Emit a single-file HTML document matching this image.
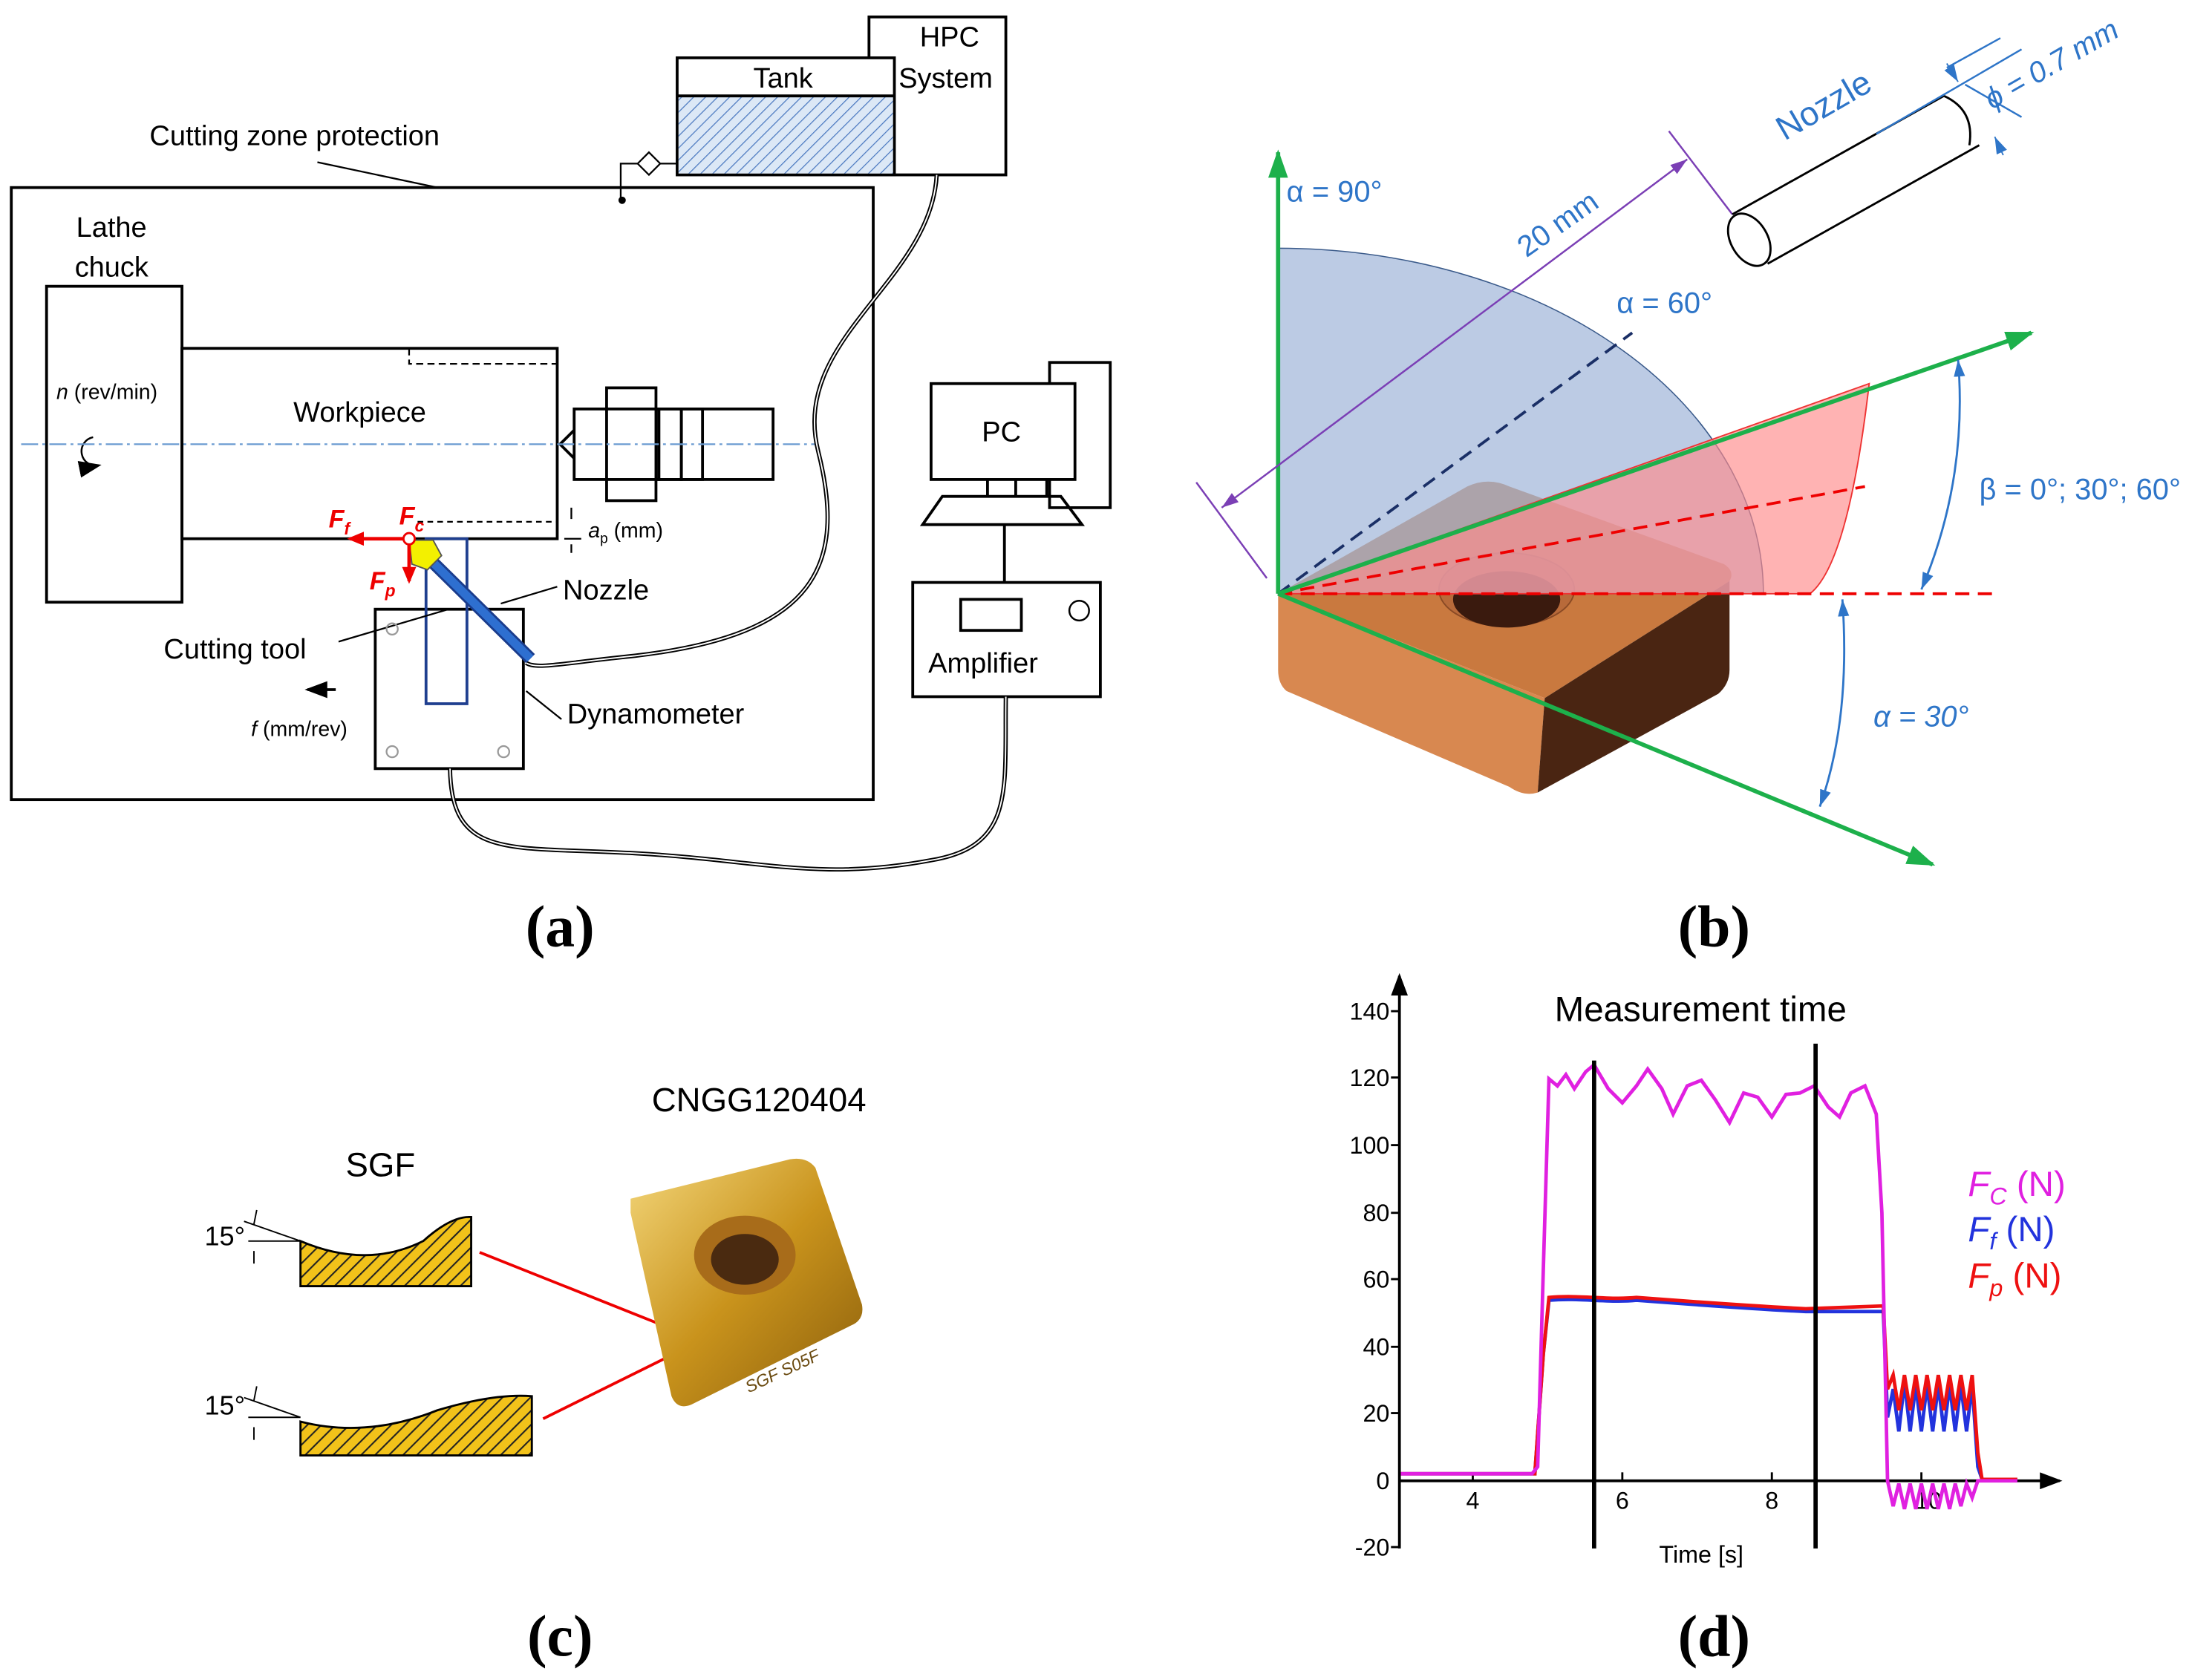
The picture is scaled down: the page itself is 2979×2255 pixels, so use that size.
<!DOCTYPE html>
<html><head><meta charset="utf-8"><style>html,body{margin:0;padding:0;background:#fff}svg{display:block}</style></head>
<body>
<svg width="2979" height="2255" viewBox="0 0 1568 1187" preserveAspectRatio="none" xmlns="http://www.w3.org/2000/svg" font-family="Liberation Sans, sans-serif">
<defs>
<pattern id="hb" width="6" height="6" patternUnits="userSpaceOnUse" patternTransform="rotate(45)"><rect width="6" height="6" fill="#dce8f6"/><line x1="0" y1="0" x2="0" y2="6" stroke="#4a78c0" stroke-width="1.3"/></pattern>
<pattern id="hy" width="7" height="7" patternUnits="userSpaceOnUse" patternTransform="rotate(45)"><rect width="7" height="7" fill="#f2c21a"/><line x1="0" y1="0" x2="0" y2="7" stroke="#222" stroke-width="2.2"/></pattern>
<marker id="ag" markerWidth="20" markerHeight="14" refX="18" refY="7" orient="auto" markerUnits="userSpaceOnUse"><path d="M0,0 L20,7 L0,14z" fill="#1db04b"/></marker>
<marker id="ab" markerWidth="14" markerHeight="10" refX="12" refY="5" orient="auto-start-reverse" markerUnits="userSpaceOnUse"><path d="M0,1 L12,5 L0,9z" fill="#2e75c8"/></marker>
<marker id="ap" markerWidth="14" markerHeight="10" refX="12" refY="5" orient="auto-start-reverse" markerUnits="userSpaceOnUse"><path d="M0,1 L12,5 L0,9z" fill="#7b3fb5"/></marker>
<marker id="ak" markerWidth="16" markerHeight="12" refX="14" refY="6" orient="auto" markerUnits="userSpaceOnUse"><path d="M0,0 L16,6 L0,12z" fill="#000"/></marker>
<marker id="ar" markerWidth="12" markerHeight="10" refX="10" refY="5" orient="auto" markerUnits="userSpaceOnUse"><path d="M0,0 L12,5 L0,10z" fill="#e00"/></marker>
<linearGradient id="gold" x1="0" y1="0" x2="1" y2="1"><stop offset="0" stop-color="#f3d67a"/><stop offset="0.5" stop-color="#c9931c"/><stop offset="1" stop-color="#8a5e0c"/></linearGradient>
</defs>

<!-- ===== (a) ===== -->
<g stroke="#000" fill="none" stroke-width="2">
<rect x="8" y="133" width="611" height="434"/>
<rect x="616" y="12" width="97" height="112" fill="#fff"/>
<rect x="480" y="41" width="154" height="83" fill="#fff"/>
<rect x="481" y="68" width="152" height="55" fill="url(#hb)" stroke="none"/>
<line x1="480" y1="68" x2="634" y2="68"/>
<rect x="33" y="203" width="96" height="224"/>
<rect x="129" y="247" width="266" height="135"/>
<rect x="407" y="290" width="60" height="50"/>
<rect x="430" y="275" width="35" height="80"/>
<rect x="467" y="290" width="81" height="50"/>
<rect x="467" y="290" width="16" height="50"/>
<rect x="483" y="290" width="15" height="50"/>
<path d="M407,305 L397,315 L407,325"/>
<rect x="266" y="432" width="105" height="113"/>
<rect x="302" y="382" width="29" height="117" stroke="#1f3f8f"/>
<rect x="660" y="272" width="102" height="68"/>
<path d="M744,272 V257 H787 V360 H762 M744,340 V360 H762"/>
<path d="M700,340 V352 M720,340 V352 M742,340 V352 M654,372 L668,352 H752 L767,372 Z"/>
<line x1="712" y1="372" x2="712" y2="413"/>
<rect x="647" y="413" width="133" height="81"/>
<rect x="681" y="425" width="43" height="22"/>
<circle cx="765" cy="433" r="7" stroke-width="1.3"/>
</g>
<g stroke="#000" fill="none" stroke-width="1.2">
<path d="M290,247 V258 H395" stroke-dasharray="5,3"/>
<path d="M296,370 H395" stroke-dasharray="4,3"/>
<line x1="225" y1="115" x2="310" y2="133"/>
<path d="M440,140 V116 H452"/><path d="M452,116 L460,108 L468,116 L460,124Z"/><path d="M468,116 H480"/>
<circle cx="441" cy="142" r="2" fill="#000"/>
<path d="M405,360 V368 M405,386 V392 M400,382 H412"/>
<line x1="240" y1="455" x2="318" y2="432"/>
<line x1="355" y1="428" x2="395" y2="416"/>
<line x1="373" y1="490" x2="398" y2="510"/>
<circle cx="278" cy="446" r="4" stroke="#999"/><circle cx="278" cy="533" r="4" stroke="#999"/><circle cx="357" cy="533" r="4" stroke="#999"/>
</g>
<path d="M66,310 A10,10 0 1,0 70,330" fill="none" stroke="#000" stroke-width="1.3" marker-end="url(#ak)"/>
<line x1="238" y1="489" x2="218" y2="489" stroke="#000" stroke-width="2" marker-end="url(#ak)"/>
<line x1="15" y1="315" x2="580" y2="315" stroke="#6a9ad0" stroke-width="1.2" stroke-dasharray="12,3,2,3"/>
<path d="M664,124 C660,200 560,240 580,320 C600,400 580,450 450,465 C400,470 380,475 373,470" fill="none" stroke="#000" stroke-width="3"/>
<path d="M664,124 C660,200 560,240 580,320 C600,400 580,450 450,465 C400,470 380,475 373,470" fill="none" stroke="#fff" stroke-width="1"/>
<path d="M319,545 C320,610 360,600 450,605 C540,610 580,625 660,610 C720,600 712,560 713,494" fill="none" stroke="#000" stroke-width="3"/>
<path d="M319,545 C320,610 360,600 450,605 C540,610 580,625 660,610 C720,600 712,560 713,494" fill="none" stroke="#fff" stroke-width="1"/>
<line x1="303" y1="395" x2="376" y2="467" stroke="#1a3c8c" stroke-width="9"/>
<line x1="303" y1="395" x2="376" y2="467" stroke="#2e6fd0" stroke-width="6"/>
<path d="M290,383 L307,383 L313,394 L303,404 L292,400Z" fill="#f3f000" stroke="#555" stroke-width="1"/>
<line x1="290" y1="382" x2="248" y2="382" stroke="#e00" stroke-width="2.5" marker-end="url(#ar)"/>
<line x1="290" y1="382" x2="290" y2="412" stroke="#e00" stroke-width="2.5" marker-end="url(#ar)"/>
<circle cx="290" cy="382" r="4" fill="#fff" stroke="#e00" stroke-width="1.5"/>
<g font-size="20" fill="#000">
<text x="534" y="62">Tank</text>
<text x="652" y="33">HPC</text><text x="637" y="62">System</text>
<text x="106" y="103">Cutting zone protection</text>
<text x="54" y="168">Lathe</text><text x="53" y="196">chuck</text>
<text x="208" y="299">Workpiece</text>
<text x="696" y="313">PC</text>
<text x="658" y="477">Amplifier</text>
<text x="399" y="425">Nozzle</text>
<text x="116" y="467">Cutting tool</text>
<text x="402" y="513">Dynamometer</text>
</g>
<g font-size="15" fill="#000">
<text x="40" y="283"><tspan font-style="italic">n</tspan> (rev/min)</text>
<text x="178" y="522"><tspan font-style="italic">f</tspan> (mm/rev)</text>
<text x="417" y="381"><tspan font-style="italic">a</tspan><tspan font-size="10" dy="4">p</tspan><tspan dy="-4"> (mm)</tspan></text>
</g>
<g font-size="18" fill="#e00" font-weight="bold" font-style="italic">
<text x="233" y="374">F<tspan font-size="12" dy="5">f</tspan></text>
<text x="283" y="372">F<tspan font-size="12" dy="5">c</tspan></text>
<text x="262" y="418">F<tspan font-size="12" dy="5">p</tspan></text>
</g>

<!-- ===== (b) ===== -->
<path d="M906,421 L1040,345 Q1055,338 1070,345 L1222,400 Q1230,405 1226,412 L1095,495 Z" fill="#c9793f"/>
<path d="M906,421 L1095,495 L1090,562 Q1080,565 1070,558 L912,490 Q906,485 906,475Z" fill="#d88850"/>
<path d="M1095,495 L1226,412 L1226,475 Q1226,485 1218,492 L1090,562Z" fill="#4a2512"/>
<ellipse cx="1068" cy="418" rx="48" ry="26" fill="#b86a3a" stroke="#8a4a25"/>
<ellipse cx="1068" cy="425" rx="38" ry="20" fill="#3a1a0e"/>
<path d="M906,421 L906,176 A344,245 0 0,1 1250,421 Z" fill="#9fb5d8" fill-opacity="0.7" stroke="#3a5a8a" stroke-width="0.8"/>
<path d="M906,421 L1325,272 Q1310,400 1283,421 Z" fill="#ff8a8a" fill-opacity="0.65" stroke="#e33" stroke-width="1"/>
<line x1="906" y1="421" x2="1415" y2="421" stroke="#e00" stroke-width="2" stroke-dasharray="10,6"/>
<line x1="906" y1="421" x2="1322" y2="345" stroke="#e00" stroke-width="2" stroke-dasharray="10,6"/>
<line x1="906" y1="421" x2="1157" y2="236" stroke="#1a2f66" stroke-width="2" stroke-dasharray="10,6"/>
<line x1="906" y1="421" x2="906" y2="108" stroke="#1db04b" stroke-width="3" marker-end="url(#ag)"/>
<line x1="906" y1="421" x2="1440" y2="236" stroke="#1db04b" stroke-width="3" marker-end="url(#ag)"/>
<line x1="906" y1="421" x2="1370" y2="613" stroke="#1db04b" stroke-width="3" marker-end="url(#ag)"/>
<line x1="866" y1="360" x2="1196" y2="113" stroke="#7b3fb5" stroke-width="1.3" marker-end="url(#ap)" marker-start="url(#ap)"/>
<line x1="848" y1="342" x2="898" y2="410" stroke="#7b3fb5" stroke-width="1.3"/>
<line x1="1183" y1="93" x2="1228" y2="152" stroke="#7b3fb5" stroke-width="1.3"/>
<path d="M1228,152 L1378,68 M1253,187 L1403,103" stroke="#000" stroke-width="1.5"/>
<ellipse cx="1240" cy="170" rx="13" ry="20" transform="rotate(-30 1240 170)" fill="#fff" stroke="#000" stroke-width="1.5"/>
<path d="M1378,68 Q1400,78 1396,103" fill="none" stroke="#000" stroke-width="1.5"/>
<path d="M1330,95 L1433,35 M1393,60 L1433,83 M1380,48 L1418,27" stroke="#2e75c8" stroke-width="1.3" fill="none"/>
<line x1="1380" y1="45" x2="1388" y2="58" stroke="#2e75c8" marker-end="url(#ab)"/>
<line x1="1420" y1="110" x2="1414" y2="97" stroke="#2e75c8" marker-end="url(#ab)"/>
<path d="M1388,255 Q1395,340 1362,418" fill="none" stroke="#2e75c8" stroke-width="1.5" marker-start="url(#ab)" marker-end="url(#ab)"/>
<path d="M1306,425 Q1312,510 1290,572" fill="none" stroke="#2e75c8" stroke-width="1.5" marker-start="url(#ab)" marker-end="url(#ab)"/>
<g fill="#2e75c8" font-size="21">
<text x="912" y="143">α  = 90°</text>
<text x="1146" y="222">α  = 60°</text>
<text x="1403" y="354">β  = 0°; 30°; 60°</text>
<text x="1328" y="515" font-style="italic">α = 30°</text>
<text transform="translate(1082,183) rotate(-35)">20 mm</text>
<text transform="translate(1265,100) rotate(-30)" font-size="24">Nozzle</text>
<text transform="translate(1412,78) rotate(-30)" font-style="italic">ϕ = 0.7 mm</text>
</g>

<!-- ===== (c) ===== -->
<path d="M213,880 Q260,900 300,880 Q320,862 334,863 L334,912 L213,912Z" fill="url(#hy)" stroke="#000" stroke-width="1.5"/>
<path d="M213,1008 Q260,1020 310,1000 Q350,988 377,990 L377,1032 L213,1032Z" fill="url(#hy)" stroke="#000" stroke-width="1.5"/>
<g stroke="#000" stroke-width="1" fill="none">
<path d="M173,866 L213,880 M176,880 H213 M182,858 L180,868 M180,887 L180,896"/>
<path d="M173,991 L213,1005 M176,1005 H213 M182,983 L180,993 M180,1012 L180,1021"/>
</g>
<g font-size="19" fill="#000"><text x="145" y="883">15°</text><text x="145" y="1003">15°</text></g>
<line x1="340" y1="888" x2="478" y2="943" stroke="#e00" stroke-width="2"/>
<line x1="385" y1="1006" x2="488" y2="955" stroke="#e00" stroke-width="2"/>
<path d="M447,850 L560,822 Q572,820 578,828 L611,925 Q613,936 603,940 L490,996 Q480,1000 476,990 L447,860Z" fill="url(#gold)"/>
<ellipse cx="528" cy="890" rx="36" ry="28" fill="#a86c1a"/>
<ellipse cx="528" cy="893" rx="24" ry="18" fill="#4a2a10"/>
<text x="525" y="978" font-size="12" fill="#6a4a10" font-style="italic" transform="rotate(-25 550 970)">SGF S05F</text>
<text x="245" y="834" font-size="24" fill="#000">SGF</text>
<text x="462" y="788" font-size="24" fill="#000">CNGG120404</text>

<!-- ===== (d) ===== -->
<line x1="992" y1="1098" x2="992" y2="692" stroke="#000" stroke-width="2" marker-end="url(#ak)"/>
<line x1="992" y1="1050" x2="1460" y2="1050" stroke="#000" stroke-width="2" marker-end="url(#ak)"/>
<g stroke="#000" stroke-width="1.5">
<line x1="986" y1="717" x2="992" y2="717"/><line x1="986" y1="764" x2="992" y2="764"/><line x1="986" y1="812" x2="992" y2="812"/><line x1="986" y1="860" x2="992" y2="860"/><line x1="986" y1="907" x2="992" y2="907"/><line x1="986" y1="955" x2="992" y2="955"/><line x1="986" y1="1002" x2="992" y2="1002"/><line x1="986" y1="1097" x2="992" y2="1097"/>
<line x1="1044" y1="1044" x2="1044" y2="1050"/><line x1="1150" y1="1044" x2="1150" y2="1050"/><line x1="1256" y1="1044" x2="1256" y2="1050"/><line x1="1362" y1="1044" x2="1362" y2="1050"/>
</g>
<g font-size="17" fill="#000" text-anchor="end">
<text x="985" y="723">140</text><text x="985" y="770">120</text><text x="985" y="818">100</text><text x="985" y="866">80</text><text x="985" y="913">60</text><text x="985" y="961">40</text><text x="985" y="1008">20</text><text x="985" y="1056">0</text><text x="985" y="1103">-20</text>
</g>
<g font-size="17" fill="#000" text-anchor="middle"><text x="1044" y="1070">4</text><text x="1150" y="1070">6</text><text x="1256" y="1070">8</text><text x="1367" y="1070">10</text>
<text x="1206" y="1108">Time [s]</text></g>
<text x="1102" y="724" font-size="25" fill="#000">Measurement time</text>
<path d="M993,1045 H1088 L1094,960 L1098,922 C1120,920 1140,924 1160,922 C1200,925 1240,928 1280,930 L1335,930 L1338,1005 L1342,985 L1346,1015 L1350,980 L1354,1015 L1358,982 L1362,1015 L1366,982 L1370,1015 L1374,982 L1378,1015 L1382,982 L1386,1015 L1390,982 L1394,1015 L1398,982 L1402,1040 L1405,1049 H1430" fill="none" stroke="#2233dd" stroke-width="2.5"/>
<path d="M993,1045 H1088 L1094,960 L1098,920 C1120,918 1140,922 1160,920 C1200,923 1240,926 1280,928 L1335,926 L1338,985 L1342,975 L1346,1000 L1350,975 L1354,1000 L1358,975 L1362,1000 L1366,975 L1370,1000 L1374,975 L1378,1000 L1382,975 L1386,1000 L1390,975 L1394,1000 L1398,975 L1402,1030 L1405,1049 H1430" fill="none" stroke="#ee1111" stroke-width="2.5"/>
<path d="M993,1045 H1086 L1090,1040 L1094,900 L1098,765 L1104,770 L1110,762 L1116,772 L1124,760 L1130,755 L1140,772 L1150,782 L1160,770 L1168,758 L1178,772 L1186,790 L1196,770 L1206,766 L1216,780 L1226,796 L1236,775 L1246,778 L1256,792 L1266,776 L1276,775 L1286,770 L1296,785 L1304,792 L1312,775 L1322,770 L1330,790 L1334,860 L1338,1050 L1342,1068 L1346,1052 L1350,1070 L1354,1052 L1358,1070 L1362,1052 L1366,1070 L1370,1052 L1374,1070 L1378,1052 L1382,1070 L1386,1052 L1390,1068 L1394,1052 L1398,1062 L1402,1050 H1430" fill="none" stroke="#e020e0" stroke-width="2.5"/>
<line x1="1130" y1="752" x2="1130" y2="1098" stroke="#000" stroke-width="3"/>
<line x1="1287" y1="740" x2="1287" y2="1098" stroke="#000" stroke-width="3"/>
<g font-size="25">
<text x="1395" y="848" fill="#e020e0"><tspan font-style="italic">F</tspan><tspan font-size="17" dy="6" font-style="italic">C</tspan><tspan dy="-6">  (N)</tspan></text>
<text x="1395" y="880" fill="#2233dd"><tspan font-style="italic">F</tspan><tspan font-size="17" dy="6" font-style="italic">f</tspan><tspan dy="-6">   (N)</tspan></text>
<text x="1395" y="913" fill="#ee1111"><tspan font-style="italic">F</tspan><tspan font-size="17" dy="6" font-style="italic">p</tspan><tspan dy="-6">  (N)</tspan></text>
</g>

<g font-family="Liberation Serif, serif" font-size="42" fill="#000" text-anchor="middle" font-weight="bold">
<text x="397" y="671">(a)</text><text x="1215" y="671">(b)</text>
<text x="397" y="1174">(c)</text><text x="1215" y="1174">(d)</text>
</g>
</svg>
</body></html>
